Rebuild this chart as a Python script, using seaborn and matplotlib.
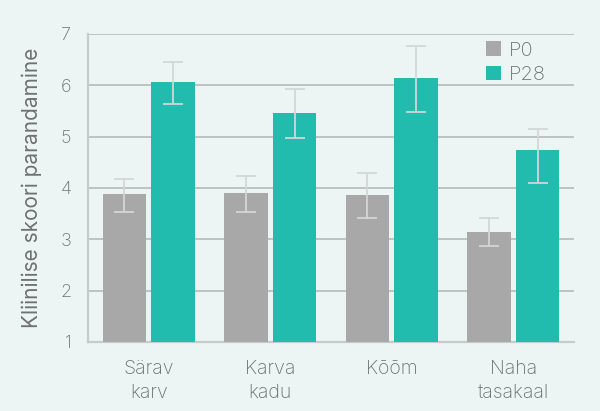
import pandas as pd
import matplotlib.pyplot as plt
import seaborn as sns

# --- data ---
categories = ["Särav\nkarv", "Karva\nkadu", "Kõõm", "Naha\ntasakaal"]
p0_values = [3.88, 3.90, 3.86, 3.14]
p28_values = [6.07, 5.46, 6.14, 4.74]
p0_err_low = [0.34, 0.36, 0.45, 0.28]
p0_err_high = [0.29, 0.33, 0.44, 0.27]
p28_err_low = [0.44, 0.48, 0.67, 0.65]
p28_err_high = [0.38, 0.46, 0.63, 0.41]
series = ["P0", "P28"]

bg = "#EDF5F4"
txt = "#6E7170"
colors = {"P0": "#A7A8A7", "P28": "#21BCAE"}

df = pd.DataFrame({
    "kategooria": categories * 2,
    "seeria": ["P0"] * 4 + ["P28"] * 4,
    "skoor": p0_values + p28_values,
})

sns.set_style("white")
plt.rcParams["font.family"] = ["Inter", "DejaVu Sans"]
plt.rcParams["font.weight"] = "light"

fig = plt.figure(figsize=(6, 4.11), dpi=100, facecolor=bg)
ax = fig.add_axes([0.1467, 0.168, 0.81, 0.7495])
ax.set_facecolor(bg)

sns.barplot(data=df, x="kategooria", y="skoor", hue="seeria",
            palette=colors, width=0.8, gap=0.1, errorbar=None,
            saturation=1, linewidth=0, ax=ax, zorder=3)

# error bars at the bar centres
bars = ax.patches[:8]
lows = p0_err_low + p28_err_low
highs = p0_err_high + p28_err_high
vals = p0_values + p28_values
for b, v, lo, hi in zip(bars, vals, lows, highs):
    xc = b.get_x() + b.get_width() / 2
    ax.errorbar(xc, v, yerr=[[lo], [hi]], fmt="none", ecolor="#D3D6D5",
                elinewidth=1.3, capsize=7, capthick=1.3, zorder=4)

ax.set_ylim(1, 7)
ax.set_xlim(-0.5, 3.5)
ax.set_yticks(range(1, 8))
ax.yaxis.grid(True, color="#BCC3C1", linewidth=1.4, zorder=0)
ax.set_axisbelow(True)
for s in ["top", "right"]:
    ax.spines[s].set_visible(False)
for s in ["left", "bottom"]:
    ax.spines[s].set_color("#C6CCCA")
    ax.spines[s].set_linewidth(1.6)
ax.tick_params(axis="y", length=0, pad=12, labelsize=13, labelcolor=txt)
ax.tick_params(axis="x", length=0, pad=13, labelsize=14, labelcolor=txt)
for lab in ax.get_xticklabels():
    lab.set_linespacing(1.45)
ax.set_xlabel("")
ax.set_ylabel("Kliinilise skoori parandamine", fontsize=15, color=txt, labelpad=13)

leg = ax.legend(loc="upper right", bbox_to_anchor=(0.98, 1.035), frameon=False,
                fontsize=14.5, handlelength=0.75, handleheight=0.75,
                handletextpad=0.4, labelspacing=0.3)
for t in leg.get_texts():
    t.set_color(txt)

plt.savefig("out.png", dpi=100, facecolor=bg)
